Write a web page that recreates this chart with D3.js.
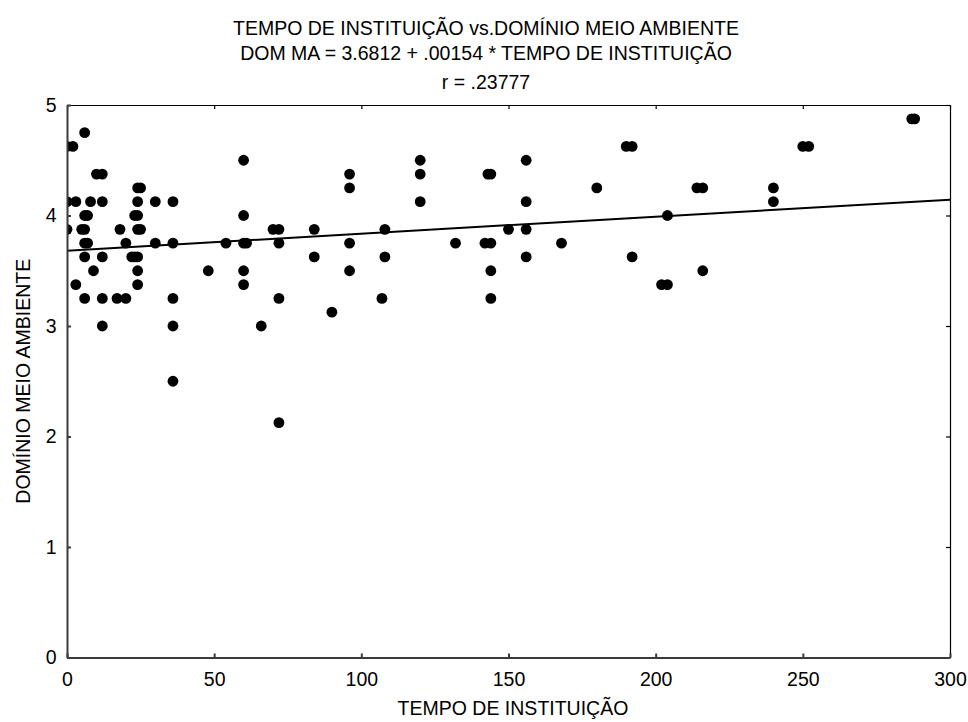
<!DOCTYPE html>
<meta charset="utf-8">
<script src="https://d3js.org/d3.v7.min.js"></script>
<style>
  body { margin: 0; background: #fff; }
  text { font-family: "Liberation Sans", Arial, sans-serif; fill: #000; }
</style>
<body>
<div id="chart"></div>
<script>
// tempo de instituição (meses) and domínio meio ambiente
const tempo = [
  6, 0, 2, 10, 12, 24, 25,
  0, 3, 8, 12, 24, 30, 36,
  6, 7, 23, 24, 60,
  0, 5, 6, 18, 24, 25,
  6, 7, 20, 30, 36, 54, 60, 61,
  6, 12, 22, 23, 24,
  9, 24, 48, 60,
  3, 24, 60,
  6, 12, 17, 20, 36,
  12, 36, 66,
  36,
  60, 120, 96, 120, 96, 120,
  70, 72, 84, 108, 72, 96, 132,
  84, 108, 96, 72, 107, 90, 72,
  190, 192, 156, 143, 144, 180, 214, 216, 156, 204,
  150, 156, 142, 144, 168, 156, 192, 144, 216, 202, 204, 144,
  287, 288, 250, 252, 240, 240
];
const dominio = [
  4.75, 4.625, 4.625, 4.375, 4.375, 4.25, 4.25,
  4.125, 4.125, 4.125, 4.125, 4.125, 4.125, 4.125,
  4.0, 4.0, 4.0, 4.0, 4.0,
  3.875, 3.875, 3.875, 3.875, 3.875, 3.875,
  3.75, 3.75, 3.75, 3.75, 3.75, 3.75, 3.75, 3.75,
  3.625, 3.625, 3.625, 3.625, 3.625,
  3.5, 3.5, 3.5, 3.5,
  3.375, 3.375, 3.375,
  3.25, 3.25, 3.25, 3.25, 3.25,
  3.0, 3.0, 3.0,
  2.5,
  4.5, 4.5, 4.375, 4.375, 4.25, 4.125,
  3.875, 3.875, 3.875, 3.875, 3.75, 3.75, 3.75,
  3.625, 3.625, 3.5, 3.25, 3.25, 3.125, 2.125,
  4.625, 4.625, 4.5, 4.375, 4.375, 4.25, 4.25, 4.25, 4.125, 4.0,
  3.875, 3.875, 3.75, 3.75, 3.75, 3.625, 3.625, 3.5, 3.5, 3.375, 3.375, 3.25,
  4.875, 4.875, 4.625, 4.625, 4.25, 4.125
];

const intercept = 3.6812, slope = 0.00154;
const titleLines = [
  "TEMPO DE INSTITUIÇÃO vs.DOMÍNIO MEIO AMBIENTE",
  "DOM MA = 3.6812 + .00154 * TEMPO DE INSTITUIÇÃO",
  "r = .23777"
];
const xTicks = [0, 50, 100, 150, 200, 250, 300];
const yTicks = [0, 1, 2, 3, 4, 5];

const data = tempo.map((t, i) => ({ x: t, y: dominio[i] }));

const W = 968, H = 722;
const margin = {top: 105, right: 18, bottom: 64.5, left: 67};
const width = W - margin.left - margin.right,
      height = H - margin.top - margin.bottom;

const svg = d3.select("#chart").append("svg")
  .attr("width", W)
  .attr("height", H);

const g = svg.append("g")
  .attr("transform", `translate(${margin.left},${margin.top})`);

const x = d3.scaleLinear().domain([0, 300]).range([0, width]);
const y = d3.scaleLinear().domain([0, 5]).range([height, 0]);

// clip so points sitting on x = 0 show only their right half
svg.append("defs").append("clipPath").attr("id", "plotclip")
  .append("rect").attr("width", width).attr("height", height);

// points
g.append("g").attr("clip-path", "url(#plotclip)")
  .selectAll("circle")
  .data(data)
  .join("circle")
    .attr("cx", d => x(d.x))
    .attr("cy", d => y(d.y))
    .attr("r", 5.4)
    .attr("fill", "#000");

// regression line
g.append("line")
  .attr("x1", x(0)).attr("y1", y(intercept))
  .attr("x2", x(300)).attr("y2", y(intercept + slope * 300))
  .attr("stroke", "#000")
  .attr("stroke-width", 2);

// frame: top and right, thin, ticks pointing in
g.append("g")
  .call(d3.axisTop(x).tickValues(xTicks).tickSize(-4).tickSizeOuter(0).tickFormat(""))
  .call(s => s.selectAll("path,line").attr("stroke", "#000").attr("stroke-width", 1.2));
g.append("g")
  .attr("transform", `translate(${width},0)`)
  .call(d3.axisRight(y).tickValues(yTicks).tickSize(-4).tickSizeOuter(0).tickFormat(""))
  .call(s => s.selectAll("path,line").attr("stroke", "#000").attr("stroke-width", 1.2));

// bottom and left axes
g.append("g")
  .attr("transform", `translate(0,${height})`)
  .call(d3.axisBottom(x).tickValues(xTicks).tickSize(-4).tickSizeOuter(0).tickPadding(15))
  .call(s => s.selectAll("path,line").attr("stroke", "#3a3a3a").attr("stroke-width", 2))
  .call(s => s.selectAll("text").attr("font-size", 19.5).attr("font-family", null).attr("fill", "#000"));
g.append("g")
  .call(d3.axisLeft(y).tickValues(yTicks).tickSize(-4).tickSizeOuter(0).tickPadding(10.5)
    .tickFormat(d3.format("d")))
  .call(s => s.selectAll("path,line").attr("stroke", "#3a3a3a").attr("stroke-width", 2))
  .call(s => s.selectAll("text").attr("font-size", 19.5).attr("font-family", null).attr("fill", "#000"));

// axis titles
svg.append("text")
  .attr("x", 513).attr("y", 715)
  .attr("text-anchor", "middle")
  .attr("font-size", 19.5)
  .text("TEMPO DE INSTITUIÇÃO");
svg.append("text")
  .attr("transform", `translate(30,${margin.top + height / 2}) rotate(-90)`)
  .attr("text-anchor", "middle")
  .attr("font-size", 19.5)
  .text("DOMÍNIO MEIO AMBIENTE");

// title
svg.append("g").selectAll("text")
  .data(titleLines)
  .join("text")
    .attr("x", 486)
    .attr("y", (d, i) => [35, 60, 89][i])
    .attr("text-anchor", "middle")
    .attr("font-size", 19.5)
    .text(d => d);
</script>
</body>
</html>
